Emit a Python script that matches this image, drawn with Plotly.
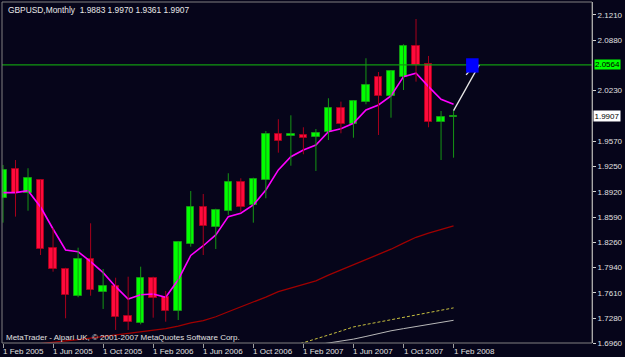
import plotly.graph_objects as go

# ---------------- data ----------------
opens  = [1.8843, 1.9215, 1.8900, 1.9072, 1.8187, 1.7919, 1.7569, 1.8048, 1.7625, 1.7699,
          1.7310, 1.7215, 1.7799, 1.7560, 1.7379, 1.8239, 1.8722, 1.8467, 1.8674, 1.9042,
          1.8748, 1.9072, 1.9664, 1.9646, 1.9659, 1.9633, 1.9694, 2.0001, 1.9798, 2.0083,
          2.0407, 2.0164, 2.0411, 2.0808, 2.0571, 1.9828, 1.9883]
highs  = [1.9267, 1.9331, 1.9224, 1.9081, 1.8450, 1.7935, 1.8195, 1.8511, 1.7919, 1.7806,
          1.7819, 1.7949, 1.7819, 1.7634, 1.8282, 1.8929, 1.8891, 1.8700, 1.9159, 1.9094,
          1.9102, 1.9707, 1.9859, 1.9910, 1.9755, 1.9733, 2.0131, 2.0087, 2.0100, 2.0649,
          2.0471, 2.0484, 2.0830, 2.1158, 2.0679, 1.9966, 1.9970]
lows   = [1.8519, 1.8597, 1.8674, 1.8100, 1.7884, 1.7280, 1.7553, 1.7573, 1.7401, 1.7129,
          1.7129, 1.7202, 1.7288, 1.7236, 1.7258, 1.8208, 1.8100, 1.8178, 1.8619, 1.8661,
          1.8519, 1.8835, 1.9426, 1.9257, 1.9405, 1.9189, 1.9590, 1.9677, 1.9620, 2.0053,
          1.9655, 1.9879, 2.0238, 2.0346, 1.9755, 1.9331, 1.9361]
closes = [1.9202, 1.8908, 1.9094, 1.8178, 1.7915, 1.7582, 1.8048, 1.7647, 1.7699, 1.7301,
          1.7228, 1.7799, 1.7547, 1.7379, 1.8265, 1.8726, 1.8480, 1.8687, 1.9042, 1.8726,
          1.9081, 1.9664, 1.9581, 1.9664, 1.9620, 1.9685, 2.0001, 1.9798, 2.0096, 2.0299,
          2.0164, 2.0484, 2.0808, 2.0562, 1.9828, 1.9888, 1.9907]

ma_magenta = [1.8908, 1.8908, 1.8934, 1.8722, 1.8437, 1.8165, 1.8143, 1.8014, 1.7871, 1.7690,
              1.7530, 1.7586, 1.7595, 1.7552, 1.7780, 1.8095, 1.8220, 1.8360, 1.8597, 1.8641,
              1.8748, 1.8943, 1.9202, 1.9374, 1.9461, 1.9526, 1.9698, 1.9735, 1.9807, 1.9979,
              2.0044, 2.0161, 2.0411, 2.0455, 2.0281, 2.0118, 2.0053]

ma_red_start = 2
ma_red = [1.6935, 1.6950, 1.6966, 1.6985, 1.7004, 1.7023, 1.7042, 1.7061, 1.7080, 1.7100,
          1.7119, 1.7145, 1.7180, 1.7220, 1.7250, 1.7300, 1.7365, 1.7425, 1.7490, 1.7555,
          1.7625, 1.7670, 1.7720, 1.7765, 1.7840, 1.7905, 1.7970, 1.8035, 1.8105, 1.8175,
          1.8255, 1.8330, 1.8385, 1.8435, 1.8476]

ma_yellow_start = 23
ma_yellow = [1.6915, 1.6962, 1.7010, 1.7063, 1.7115, 1.7168, 1.7200, 1.7230, 1.7262, 1.7293,
             1.7324, 1.7355, 1.7386, 1.7415]

ma_white_start = 25
ma_white = [1.6935, 1.6958, 1.6985, 1.7010, 1.7045, 1.7083, 1.7118, 1.7146, 1.7175, 1.7203,
            1.7229, 1.7254]

tick_idx = [0, 4, 8, 12, 16, 20, 24, 28, 32, 36]
tick_labels = ["1 Feb 2005", "1 Jun 2005", "1 Oct 2005", "1 Feb 2006", "1 Jun 2006",
               "1 Oct 2006", "1 Feb 2007", "1 Jun 2007", "1 Oct 2007", "1 Feb 2008"]
price_ticks = [2.1210, 2.0880, 2.0230, 1.9570, 1.9250, 1.8920, 1.8590, 1.8260,
               1.7940, 1.7610, 1.7280, 1.6960]

hline_price = 2.0564
target_box_x = [37.0, 38.0]
target_box_y = [2.0463, 2.0649]
arrow_x = [36.0, 38.05]
arrow_y = [1.9970, 2.0564]
arrow_tip_x = [37.0, 37.8]
arrow_tip_y = [2.0433, 2.0585]

symbol_title = "GBPUSD,Monthly"
footer = "MetaTrader - Alpari UK, \u00a9 2001-2007 MetaQuotes Software Corp."

x_range = [-0.08, 47.06]
y_range = [1.6960, 2.1378]

# ---------------- styling ----------------
BG = "#06051a"
BULL, BULL_W = "#00ff00", "#159615"
BEAR, BEAR_W = "#ff0a3c", "#a8001c"
FONT = "Liberation Sans"
FS = 8

idx = list(range(len(opens)))
fig = go.Figure()

def wick_trace(sel, color):
    xs, ys = [], []
    for i in sel:
        xs += [i, i, None]
        ys += [lows[i], highs[i], None]
    return go.Scatter(x=xs, y=ys, mode="lines", line=dict(color=color, width=1),
                      hoverinfo="skip", showlegend=False)

bull = [i for i in idx if closes[i] >= opens[i]]
bear = [i for i in idx if closes[i] < opens[i]]

# moving averages (behind candles)
fig.add_trace(go.Scatter(x=list(range(ma_red_start, ma_red_start + len(ma_red))), y=ma_red,
                         mode="lines", line=dict(color="#a00000", width=1.3), showlegend=False))
fig.add_trace(go.Scatter(x=list(range(ma_yellow_start, ma_yellow_start + len(ma_yellow))), y=ma_yellow,
                         mode="lines", line=dict(color="#c8c040", width=1, dash="3px,2px"), showlegend=False))
fig.add_trace(go.Scatter(x=list(range(ma_white_start, ma_white_start + len(ma_white))), y=ma_white,
                         mode="lines", line=dict(color="#b8b8b8", width=1), showlegend=False))
fig.add_trace(go.Scatter(x=idx, y=ma_magenta, mode="lines",
                         line=dict(color="#ff00ff", width=1.6), showlegend=False))

fig.add_trace(wick_trace(bull, BULL_W))
fig.add_trace(wick_trace(bear, BEAR_W))

def body_trace(sel, fill, edge):
    base = [min(opens[i], closes[i]) for i in sel]
    h = [max(abs(closes[i] - opens[i]), 0.0004) for i in sel]
    return go.Bar(x=sel, y=h, base=base, width=0.6,
                  marker=dict(color=fill, line=dict(color=edge, width=1)),
                  showlegend=False, hoverinfo="skip")

fig.add_trace(body_trace(bull, BULL, BULL_W))
fig.add_trace(body_trace(bear, BEAR, BEAR_W))

# horizontal line
fig.add_trace(go.Scatter(x=x_range, y=[hline_price, hline_price], mode="lines",
                         line=dict(color="#119911", width=1.2), showlegend=False))

# target box and arrow
fig.add_shape(type="rect", x0=target_box_x[0], x1=target_box_x[1], y0=target_box_y[0], y1=target_box_y[1],
              xref="x", yref="y", fillcolor="#0000ff", line=dict(color="#0000ff", width=0), layer="above")
fig.add_trace(go.Scatter(x=arrow_x, y=arrow_y, mode="lines",
                         line=dict(color="#e8e8e8", width=1.3), showlegend=False))
fig.add_trace(go.Scatter(x=arrow_tip_x, y=arrow_tip_y, mode="lines",
                         line=dict(color="#e8e8e8", width=1.3), showlegend=False))

# frame
fig.add_shape(type="rect", xref="paper", yref="paper", x0=0, x1=1, y0=0, y1=1,
              line=dict(color="#808080", width=1), layer="above")

annotations = []
# title
annotations.append(dict(xref="paper", yref="paper", x=0, y=1, xanchor="left", yanchor="top",
                        xshift=4, yshift=-1, showarrow=False,
                        text=f"{symbol_title}  {opens[-1]:.4f} {highs[-1]:.4f} {lows[-1]:.4f} {closes[-1]:.4f}",
                        font=dict(family=FONT, size=8.4, color="#e8e8e8")))
# footer
annotations.append(dict(xref="paper", yref="paper", x=0, y=0, xanchor="left", yanchor="bottom",
                        xshift=2, yshift=-1, showarrow=False, text=footer,
                        font=dict(family=FONT, size=FS, color="#e0e0e0")))
# date labels
for ti, tl in zip(tick_idx, tick_labels):
    annotations.append(dict(xref="x", yref="paper", x=ti, y=0, xanchor="left", yanchor="top",
                            xshift=-2, yshift=-2, showarrow=False, text=tl,
                            font=dict(family=FONT, size=FS, color="#e0e0e0")))
# price boxes
annotations.append(dict(xref="paper", yref="y", x=1, y=hline_price, xanchor="left", yanchor="middle",
                        xshift=2, showarrow=False, text=f"{hline_price:.4f}", bgcolor="#00ff00",
                        borderpad=0, font=dict(family=FONT, size=FS, color="#000000")))
annotations.append(dict(xref="paper", yref="y", x=1, y=closes[-1], xanchor="left", yanchor="middle",
                        xshift=1, showarrow=False, text=f"{closes[-1]:.4f}", bgcolor="#ffffff",
                        borderpad=0.5, font=dict(family=FONT, size=FS, color="#000000")))

fig.update_layout(
    width=625, height=357,
    margin=dict(l=2, r=30, t=2, b=14),
    paper_bgcolor=BG, plot_bgcolor=BG,
    barmode="overlay", bargap=0,
    showlegend=False,
    annotations=annotations,
    xaxis=dict(range=x_range, showgrid=False, zeroline=False, showline=False,
               tickvals=tick_idx, ticktext=["" for _ in tick_idx], ticks="outside",
               ticklen=4, tickcolor="#a0a0a0", fixedrange=True),
    yaxis=dict(range=y_range, side="right", showgrid=False, zeroline=False,
               showline=True, linecolor="#d0d0d0", linewidth=1,
               tickvals=price_ticks, ticktext=[f"{p:.4f}" for p in price_ticks],
               ticks="outside", ticklen=3, tickcolor="#d0d0d0",
               tickfont=dict(family=FONT, size=FS, color="#e0e0e0"), fixedrange=True),
)

fig.write_html("out.html")
